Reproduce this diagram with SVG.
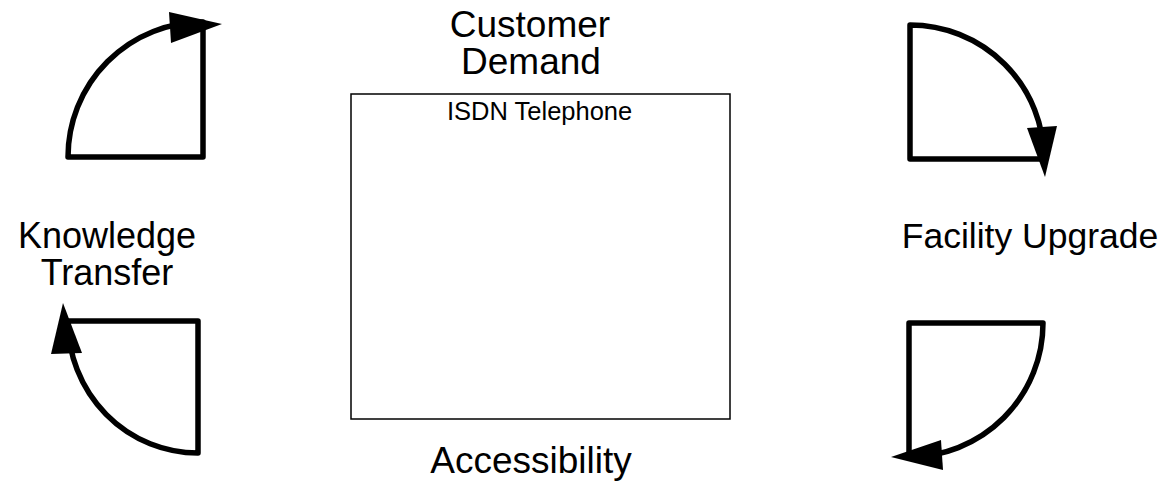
<svg xmlns="http://www.w3.org/2000/svg" width="1174" height="485" viewBox="0 0 1174 485">
  <style>
    .label { font-family: "Liberation Sans", Arial, sans-serif; font-size: 36px; fill: #000; text-anchor: middle; }
    .small { font-family: "Liberation Sans", Arial, sans-serif; font-size: 25.5px; fill: #000; }
    .quad { fill: none; stroke: #000; stroke-width: 5.5; stroke-linejoin: round; }
    .head { fill: #000; stroke: none; }
    .box { fill: #fff; stroke: #000; stroke-width: 1.5; }
  </style>
  <rect width="1174" height="485" fill="#fff"/>

  <g id="center-box">
    <rect class="box" x="351" y="94" width="379" height="325"/>
    <text class="small" x="447" y="120">ISDN Telephone</text>
  </g>

  <g id="label-customer-demand">
    <text class="label" x="530" y="37" style="font-size:37px">Customer</text>
    <text class="label" x="531" y="74" style="font-size:37px">Demand</text>
  </g>
  <g id="label-knowledge-transfer">
    <text class="label" x="107" y="248">Knowledge</text>
    <text class="label" x="107" y="285">Transfer</text>
  </g>
  <g id="label-facility-upgrade">
    <text class="label" x="1030" y="248" style="font-size:35.5px">Facility Upgrade</text>
  </g>
  <g id="label-accessibility">
    <text class="label" x="531" y="473" style="font-size:37px">Accessibility</text>
  </g>

  <g id="connectors">
    <!-- top-left: quarter turn toward the top -->
    <path class="quad" d="M203,157 L68,157 A135,135 0 0 1 203,22 Z"/>
    <polygon class="head" points="169,12 222,24 171,43"/>
    <!-- top-right: quarter turn downward -->
    <path class="quad" d="M910,159 L910,25 A134,134 0 0 1 1044,159 Z"/>
    <polygon class="head" points="1027,128 1057,126 1045,177"/>
    <!-- bottom-right: quarter turn to the left -->
    <path class="quad" d="M909,457 L909,323 L1043,323 A134,134 0 0 1 909,457 Z"/>
    <polygon class="head" points="941,440 943,470 891,457"/>
    <!-- bottom-left: quarter turn upward -->
    <path class="quad" d="M68,321 L198,321 L198,453 A130,132 0 0 1 68,321 Z"/>
    <polygon class="head" points="63,303 51,354 82,353"/>
  </g>
</svg>
